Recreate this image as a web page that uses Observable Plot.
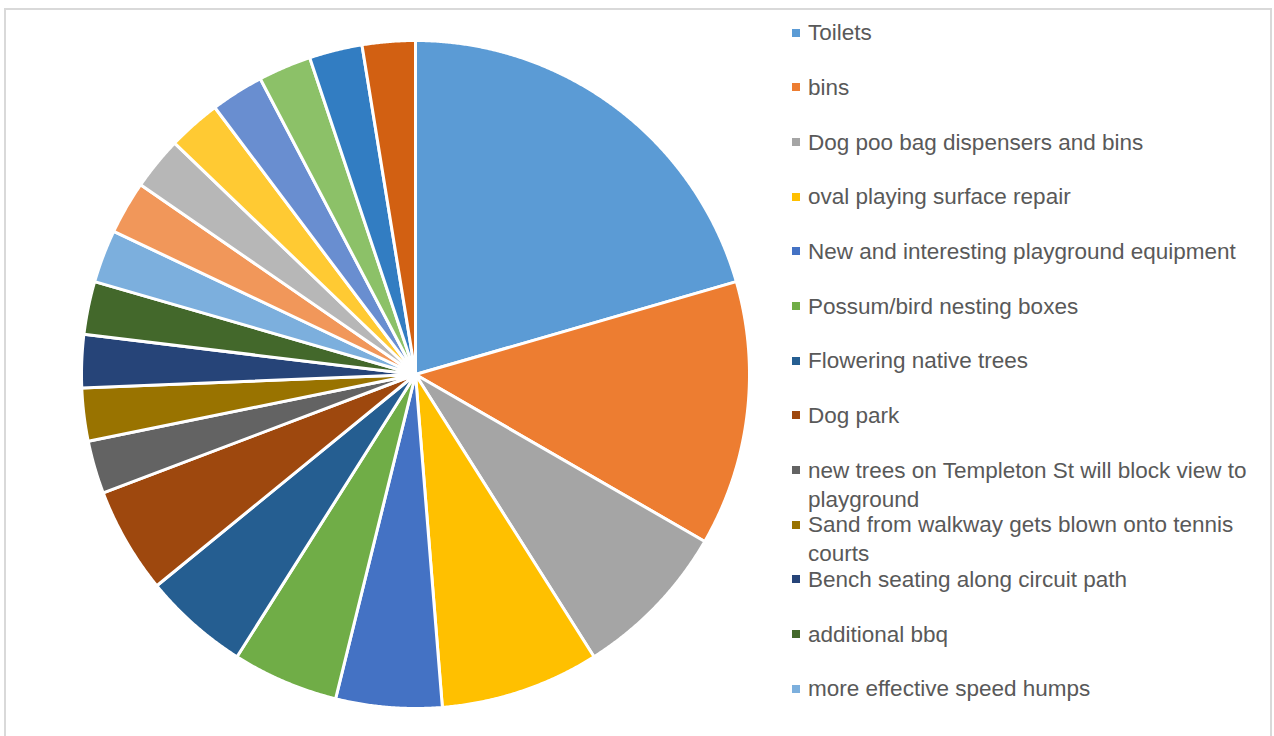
<!DOCTYPE html>
<html>
<head>
<meta charset="utf-8">
<script src="https://cdn.jsdelivr.net/npm/d3@7"></script>
<script src="https://cdn.jsdelivr.net/npm/@observablehq/plot@0.6"></script>
<style>
  html, body { margin: 0; padding: 0; background: #fff; width: 1274px; height: 736px; overflow: hidden; }
  #frame { position: absolute; left: 4px; top: 8px; width: 1268px; height: 760px; border: 2px solid #d9d9d9; box-sizing: border-box; }
  #pie { position: absolute; left: 75px; top: 34px; }
  #legend { position: absolute; left: 0; top: 0; font-family: "Liberation Sans", Arial, sans-serif; font-size: 22.5px; color: #595959; }
  .sw { position: absolute; left: 792px; width: 8px; height: 8px; }
  .tx { position: absolute; left: 808px; line-height: 24px; height: 24px; white-space: nowrap; }
</style>
</head>
<body>
<div id="frame"></div>
<div id="pie"></div>
<div id="legend"></div>
<script>
// Categories in slice order (clockwise from 12 o'clock). Only the first 13 are named in the legend.
const categories = [
  "Toilets",
  "bins",
  "Dog poo bag dispensers and bins",
  "oval playing surface repair",
  "New and interesting playground equipment",
  "Possum/bird nesting boxes",
  "Flowering native trees",
  "Dog park",
  "new trees on Templeton St will block view to playground",
  "Sand from walkway gets blown onto tennis courts",
  "Bench seating along circuit path",
  "additional bbq",
  "more effective speed humps",
  "item 14", "item 15", "item 16", "item 17", "item 18", "item 19", "item 20"
];
const counts = [8, 5, 3, 3, 2, 2, 2, 2, 1, 1, 1, 1, 1, 1, 1, 1, 1, 1, 1, 1];
const colors = [
  "#5b9bd5", "#ed7d31", "#a5a5a5", "#ffc000", "#4472c4", "#70ad47",
  "#255e91", "#9e480e", "#636363", "#997300", "#264478", "#43682b",
  "#7cafdd", "#f1975a", "#b7b7b7", "#ffca33", "#698ed0", "#8cc168",
  "#327dc2", "#d26012"
];
const legendLines = [
  ["Toilets"],
  ["bins"],
  ["Dog poo bag dispensers and bins"],
  ["oval playing surface repair"],
  ["New and interesting playground equipment"],
  ["Possum/bird nesting boxes"],
  ["Flowering native trees"],
  ["Dog park"],
  ["new trees on Templeton St will block view to", "playground"],
  ["Sand from walkway gets blown onto tennis", "courts"],
  ["Bench seating along circuit path"],
  ["additional bbq"],
  ["more effective speed humps"]
];

// Build slice outlines from the values (angles clockwise from the top).
const pie = d3.pie().sort(null).value(d => d.count)(categories.map((c, i) => ({cat: c, count: counts[i]})));
const pts = [];
for (const s of pie) {
  pts.push({cat: s.data.cat, x: 0, y: 0});
  const n = Math.max(2, Math.ceil((s.endAngle - s.startAngle) / (Math.PI / 720)));
  for (let k = 0; k <= n; k++) {
    const a = s.startAngle + (s.endAngle - s.startAngle) * k / n;
    pts.push({cat: s.data.cat, x: Math.sin(a), y: Math.cos(a)});
  }
}

const chart = Plot.plot({
  width: 680,
  height: 680,
  margin: 6,
  x: {domain: [-1, 1], axis: null},
  y: {domain: [-1, 1], axis: null},
  color: {domain: categories, range: colors},
  marks: [
    Plot.line(pts, {x: "x", y: "y", z: "cat", fill: "cat", stroke: "white", strokeWidth: 3, curve: "linear-closed", strokeLinejoin: "round"})
  ]
});
document.getElementById("pie").appendChild(chart);

// Legend
const leg = document.getElementById("legend");
const step = 54.67;
legendLines.forEach((lines, i) => {
  const base = 41 + i * step;
  const sw = document.createElement("div");
  sw.className = "sw";
  sw.style.top = (base - 12.5) + "px";
  sw.style.background = colors[i];
  leg.appendChild(sw);
  lines.forEach((l, j) => {
    const tx = document.createElement("div");
    tx.className = "tx";
    tx.style.top = (base + j * 29 - 19.8) + "px";
    tx.textContent = l;
    leg.appendChild(tx);
  });
});
</script>
</body>
</html>
